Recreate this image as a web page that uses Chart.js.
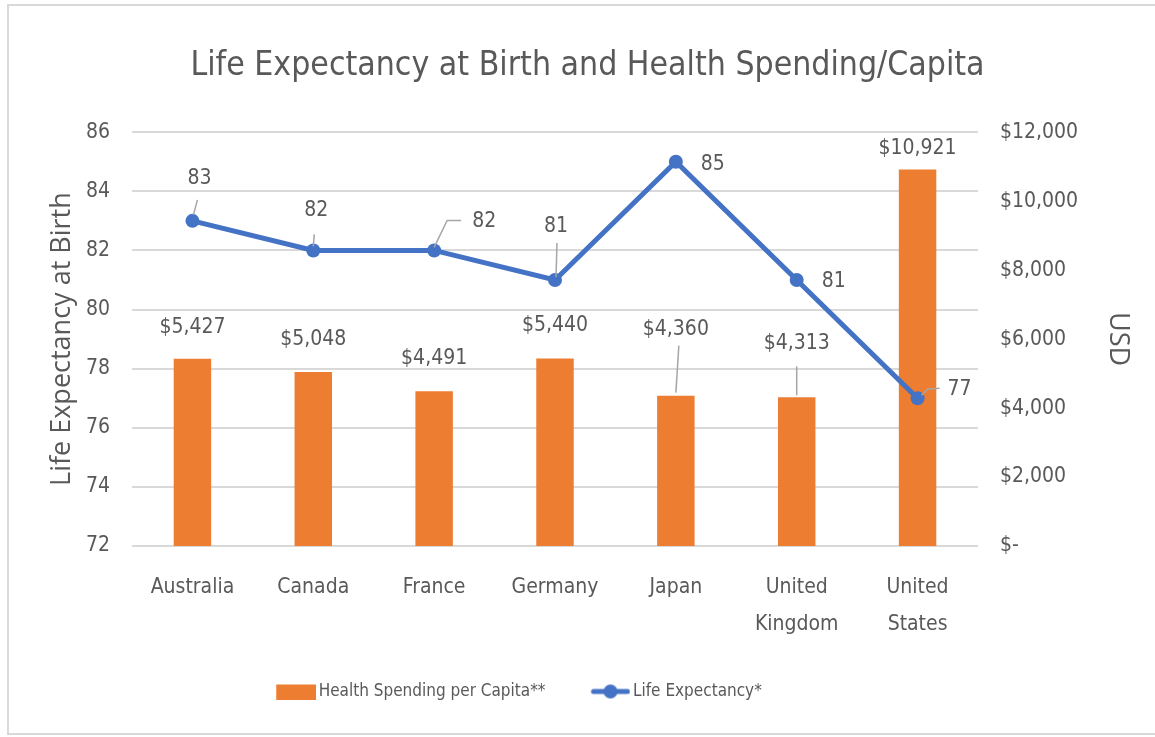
<!DOCTYPE html>
<html>
<head>
<meta charset="utf-8">
<script src="https://cdn.jsdelivr.net/npm/chart.js@4.4.0/dist/chart.umd.min.js"></script>
<style>
  html, body { margin: 0; padding: 0; background: #fff; }
  #frame { position: absolute; left: 7px; top: 4px; width: 1150px; height: 731px; border: 2px solid #d9d9d9; box-sizing: border-box; }
  #wrap { position: absolute; left: 0; top: 0; width: 1155px; height: 737px; }
</style>
</head>
<body>
<div id="frame"></div>
<div id="wrap"><canvas id="chart" width="1155" height="737"></canvas></div>
<script>
var countries = ['Australia', 'Canada', 'France', 'Germany', 'Japan', ['United', 'Kingdom'], ['United', 'States']];
var spending = [5427, 5048, 4491, 5440, 4360, 4313, 10921];
var lifeExpectancy = [83, 82, 82, 81, 85, 81, 77];
var leftTicks = [72, 74, 76, 78, 80, 82, 84, 86];
var rightTicks = [0, 2000, 4000, 6000, 8000, 10000, 12000];

// where the data labels sit relative to their mark, and their leader lines
var barLabelPos = [[0, -31], [0, -32], [0, -33], [0, -33], [0, -66], [0, -54], [0, -21]];
var barLeaders = [null, null, null, null, [[3, -50], [0, -3]], [[0, -31], [0, -2]], null];
var lineLabelPos = [[7, -42], [3, -40], [50, -29], [1, -53], [37, 3], [37, 2], [42, -9]];
var lineLeaders = [
  [[5, -21], [1, -6]],
  [[1, -16], [0, -4]],
  [[0, -3], [13, -30], [27, -30]],
  [[2, -37], [1, -3]],
  null, null,
  [[4, -3], [10, -9], [22, -10]]
];

var ORANGE = '#ed7d31';
var BLUE = '#4472c4';
var TEXT = '#595959';
var NARROW = '"Liberation Sans Narrow", "DejaVu Sans Condensed", Lato, sans-serif';
var WIDE = '"Open Sans", sans-serif';
var LW = 54; // legend point-style width

function usd(v) {
  return v === 0 ? '$-' : '$' + v.toLocaleString('en-US');
}

function swatch(kind) {
  // wider transparent canvas so the gaps in the legend row match
  var c = document.createElement('canvas');
  c.width = LW + 12; c.height = 16;
  var g = c.getContext('2d');
  var x0 = LW - 28;
  if (kind === 'bar') {
    g.fillStyle = ORANGE;
    g.fillRect(x0, 1, 40, 15);
  } else {
    g.strokeStyle = BLUE; g.lineWidth = 5; g.lineCap = 'round';
    g.beginPath(); g.moveTo(x0 + 3, 8); g.lineTo(x0 + 37, 8); g.stroke();
    g.fillStyle = BLUE;
    g.beginPath(); g.arc(x0 + 20, 8, 7, 0, Math.PI * 2); g.fill();
  }
  return c;
}
var swatches = [swatch('bar'), swatch('line')];

var dataLabels = {
  id: 'dataLabels',
  afterDatasetsDraw: function(chart) {
    var ctx = chart.ctx;
    ctx.save();
    ctx.font = '21px ' + NARROW;
    ctx.textAlign = 'center';
    ctx.textBaseline = 'middle';
    function put(meta, texts, pos, leaders) {
      meta.data.forEach(function(el, i) {
        var ld = leaders[i];
        if (ld) {
          ctx.strokeStyle = '#a6a6a6';
          ctx.lineWidth = 1.5;
          ctx.beginPath();
          ld.forEach(function(p, j) {
            if (j) ctx.lineTo(el.x + p[0], el.y + p[1]);
            else ctx.moveTo(el.x + p[0], el.y + p[1]);
          });
          ctx.stroke();
        }
        ctx.fillStyle = TEXT;
        ctx.fillText(texts[i], el.x + pos[i][0], el.y + pos[i][1]);
      });
    }
    put(chart.getDatasetMeta(0), spending.map(usd), barLabelPos, barLeaders);
    put(chart.getDatasetMeta(1), lifeExpectancy.map(String), lineLabelPos, lineLeaders);
    ctx.restore();
  }
};

// the original's title sits a bit right of centre and its legend a bit left
var nudge = {
  id: 'nudge',
  afterLayout: function(chart) {
    chart.titleBlock.left += 20;
    chart.legend.right -= 137;
  }
};

var ctx = document.getElementById('chart').getContext('2d');

var myChart = new Chart(ctx, {
  type: 'bar',
  data: {
    labels: countries,
    datasets: [{
      type: 'bar',
      label: 'Health Spending per Capita**',
      data: spending,
      yAxisID: 'y1',
      backgroundColor: ORANGE,
      barPercentage: 0.62,
      categoryPercentage: 0.5,
      order: 2
    }, {
      type: 'line',
      label: 'Life Expectancy*',
      data: lifeExpectancy,
      yAxisID: 'y',
      borderColor: BLUE,
      backgroundColor: BLUE,
      borderWidth: 5,
      pointRadius: 7,
      pointBorderWidth: 0,
      pointBackgroundColor: BLUE,
      tension: 0,
      order: 1
    }]
  },
  options: {
    responsive: false,
    animation: false,
    layout: { padding: { left: 10, right: 10, top: 0, bottom: 27 } },
    plugins: {
      tooltip: { enabled: false },
      title: {
        display: true,
        text: 'Life Expectancy at Birth and Health Spending/Capita',
        color: TEXT,
        font: { family: NARROW, size: 33.5, weight: 'normal', lineHeight: 1.2 },
        padding: { top: 46, bottom: 46 }
      },
      legend: {
        position: 'bottom',
        labels: {
          usePointStyle: true,
          pointStyleWidth: LW,
          padding: 25,
          color: TEXT,
          font: { family: NARROW, size: 17 },
          generateLabels: function(chart) {
            return chart.data.datasets.map(function(ds, i) {
              return {
                text: ds.label,
                pointStyle: swatches[i],
                fillStyle: 'transparent',
                strokeStyle: 'transparent',
                lineWidth: 0,
                fontColor: TEXT,
                hidden: false,
                datasetIndex: i
              };
            });
          }
        }
      }
    },
    scales: {
      x: {
        grid: { display: false, drawTicks: false },
        border: { display: false },
        ticks: {
          color: TEXT,
          padding: 23,
          maxRotation: 0,
          autoSkip: false,
          font: { family: NARROW, size: 21, lineHeight: 1.75 }
        },
        afterFit: function(s) { s.height = 112; }
      },
      y: {
        position: 'left',
        min: 72,
        max: 86,
        grid: { color: '#d9d9d9', lineWidth: 2, drawTicks: false },
        border: { display: false },
        ticks: { color: TEXT, padding: 22, font: { family: NARROW, size: 21 } },
        title: {
          display: true,
          text: 'Life Expectancy at Birth',
          color: TEXT,
          font: { family: WIDE, size: 27 },
          padding: { top: 36, bottom: 0 }
        },
        afterBuildTicks: function(s) {
          s.ticks = leftTicks.map(function(v) { return { value: v }; });
        },
        afterFit: function(s) { s.width = 122; }
      },
      y1: {
        position: 'right',
        min: 0,
        max: 12000,
        grid: { display: false, drawTicks: false },
        border: { display: false },
        ticks: { color: TEXT, padding: 22, font: { family: NARROW, size: 21 }, callback: usd },
        title: {
          display: true,
          text: 'USD',
          color: TEXT,
          font: { family: WIDE, size: 27 },
          padding: { top: 11, bottom: 0 }
        },
        afterBuildTicks: function(s) {
          s.ticks = rightTicks.map(function(v) { return { value: v }; });
        },
        afterFit: function(s) { s.width = 167; }
      }
    }
  },
  plugins: [dataLabels, nudge]
});
</script>
</body>
</html>
